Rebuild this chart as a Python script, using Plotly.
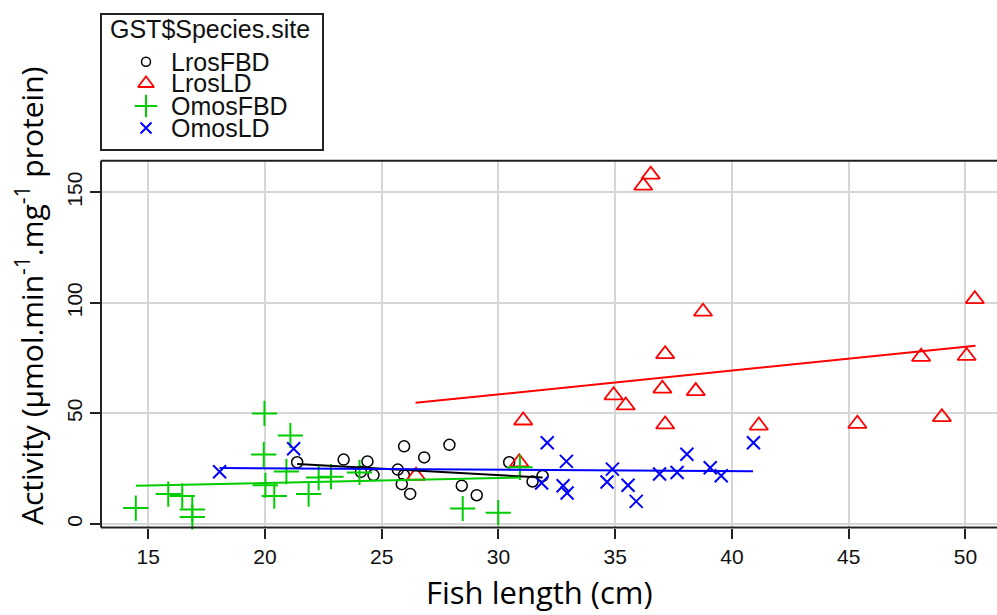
import plotly.graph_objects as go

# ---------------- data ----------------
lrosfbd_x = [21.38, 23.37, 24.39, 24.11, 24.65, 25.96, 25.69, 25.95, 25.86, 26.22,
             26.82, 27.90, 28.43, 29.07, 30.46, 31.46, 31.89]
lrosfbd_y = [27.9, 29.1, 28.3, 23.6, 22.1, 35.1, 24.6, 22.1, 18.0, 13.6,
             30.1, 35.8, 17.3, 13.0, 27.9, 19.2, 21.7]

lrosld_x = [36.52, 36.20, 38.76, 50.40, 37.14, 48.10, 50.05, 34.93, 35.45, 37.02,
            38.45, 31.06, 37.14, 41.15, 45.37, 48.99, 30.89, 26.47]
lrosld_y = [158.0, 153.0, 96.0, 101.7, 76.8, 75.6, 76.0, 58.2, 53.6, 61.2,
            60.1, 46.8, 45.0, 44.5, 45.3, 48.3, 27.9, 21.8]

omosfbd_x = [14.47, 15.86, 16.46, 16.89, 16.89, 19.98, 21.09, 19.95, 20.92, 20.02,
             20.40, 21.87, 22.30, 22.83, 24.05, 28.47, 29.99, 30.92]
omosfbd_y = [7.2, 13.5, 12.7, 6.5, 3.2, 50.0, 40.0, 31.4, 23.7, 17.5,
             12.6, 13.5, 21.0, 21.4, 23.3, 7.0, 5.1, 25.6]

omosld_x = [18.06, 21.23, 31.85, 32.09, 32.91, 32.77, 32.94, 34.88, 34.65, 35.55,
            35.90, 36.90, 37.65, 38.07, 39.07, 39.54, 40.92]
omosld_y = [23.6, 34.0, 18.5, 36.7, 28.3, 17.3, 14.0, 24.8, 19.0, 17.5,
            10.2, 22.6, 23.3, 31.5, 25.4, 21.8, 36.7]

# fitted lines (end points)
fit_lrosfbd_x = [21.38, 31.89]
fit_lrosfbd_y = [27.1, 21.0]
fit_lrosld_x = [26.45, 50.43]
fit_lrosld_y = [54.8, 80.6]
fit_omosfbd_x = [14.47, 30.92]
fit_omosfbd_y = [17.3, 21.0]
fit_omosld_x = [18.06, 40.90]
fit_omosld_y = [25.3, 23.8]

group_names = ["LrosFBD", "LrosLD", "OmosFBD", "OmosLD"]
x_ticks = [15, 20, 25, 30, 35, 40, 45, 50]
y_ticks = [0, 50, 100, 150]

# ---------------- styles ----------------
W, H = 997, 615
colors = ["#000000", "#FF0000", "#00CD00", "#0000FF"]
symbols = ["circle-open", "triangle-up-open", "cross-thin-open", "x-thin-open"]
sizes = [11, 16, 18, 13]
lw = [1.5, 1.8, 2, 2]

# plot area in pixels
PL, PR, PT, PB = 101, 997, 160.7, 527.5

fig = go.Figure()

series = [(lrosfbd_x, lrosfbd_y), (lrosld_x, lrosld_y),
          (omosfbd_x, omosfbd_y), (omosld_x, omosld_y)]
fits = [(fit_lrosfbd_x, fit_lrosfbd_y), (fit_lrosld_x, fit_lrosld_y),
        (fit_omosfbd_x, fit_omosfbd_y), (fit_omosld_x, fit_omosld_y)]

for i, (xs, ys) in enumerate(series):
    fig.add_trace(go.Scatter(
        x=xs, y=ys, mode="markers", name=group_names[i], showlegend=False,
        marker=dict(symbol=symbols[i], size=sizes[i], color=colors[i],
                    line=dict(color=colors[i], width=lw[i])),
        cliponaxis=False))
for i, (xs, ys) in enumerate(fits):
    fig.add_trace(go.Scatter(
        x=xs, y=ys, mode="lines", showlegend=False,
        line=dict(color=colors[i], width=2)))

# legend drawn manually on a full-figure pixel overlay
LEG_MARK_X = 146
LEG_TEXT_X = 169
LEG_ROWS = [61.7, 83.5, 106, 128]
for i in range(4):
    fig.add_trace(go.Scatter(
        x=[LEG_MARK_X], y=[LEG_ROWS[i]], mode="markers", showlegend=False,
        xaxis="x2", yaxis="y2",
        marker=dict(symbol=symbols[i], size=sizes[i] - 2, color=colors[i],
                    line=dict(color=colors[i], width=lw[i]))))

legfont = dict(family="Liberation Sans, Arial", size=25, color="#111")
annotations = []
annotations.append(dict(text="GST$Species.site", x=108 / W, y=1 - 29 / H,
                        xref="paper", yref="paper", xanchor="left", yanchor="middle",
                        showarrow=False, font=legfont))
for i in range(4):
    annotations.append(dict(text=group_names[i], x=LEG_TEXT_X / W, y=1 - LEG_ROWS[i] / H,
                            xref="paper", yref="paper", xanchor="left", yanchor="middle",
                            showarrow=False, font=legfont))
annotations.append(dict(text="Fish length (cm)", x=539 / W, y=0,
                        xref="paper", yref="paper", xanchor="center", yanchor="bottom",
                        showarrow=False,
                        font=dict(family="Open Sans", size=31, color="#000")))
annotations.append(dict(text="Activity (µmol.min<sup>-1</sup>.mg<sup>-1</sup> protein)",
                        x=30 / W, y=1 - 296 / H, textangle=-90,
                        xref="paper", yref="paper", xanchor="center", yanchor="middle",
                        showarrow=False,
                        font=dict(family="Open Sans", size=30, color="#000")))

shapes = [
    dict(type="rect", xref="paper", yref="paper", x0=101 / W, x1=323 / W,
         y0=1 - 150 / H, y1=1 - 14 / H, line=dict(color="#222", width=2)),
    dict(type="line", xref="paper", yref="paper", x0=PL / W, x1=PL / W,
         y0=1 - PB / H, y1=1 - PT / H, line=dict(color="#222", width=2)),
    dict(type="line", xref="paper", yref="paper", x0=PL / W, x1=1,
         y0=1 - PB / H, y1=1 - PB / H, line=dict(color="#222", width=2)),
    dict(type="line", xref="paper", yref="paper", x0=PL / W, x1=1,
         y0=1 - PT / H, y1=1 - PT / H, line=dict(color="#222", width=2)),
]

tickfont = dict(family="Liberation Sans, Arial", size=21, color="#111")
fig.update_layout(
    width=W, height=H, margin=dict(l=0, r=0, t=0, b=0, pad=0),
    paper_bgcolor="white", plot_bgcolor="rgba(0,0,0,0)",
    showlegend=False,
    xaxis=dict(domain=[PL / W, 1.0], range=[12.98, 51.35], tickvals=x_ticks,
               ticks="outside", ticklen=10, tickwidth=1.5, tickcolor="#222",
               showgrid=True, gridcolor="#D6D6D6", gridwidth=2, zeroline=False,
               showline=False, tickfont=tickfont, automargin=False),
    yaxis=dict(domain=[1 - PB / H, 1 - PT / H], range=[-1.6, 164.3], tickvals=y_ticks,
               ticks="outside", ticklen=10, tickwidth=1.5, tickcolor="#222",
               tickangle=-90,
               showgrid=True, gridcolor="#D6D6D6", gridwidth=2, zeroline=False,
               showline=False, tickfont=tickfont, automargin=False),
    xaxis2=dict(domain=[0, 1], range=[0, W], visible=False, anchor="y2", fixedrange=True),
    yaxis2=dict(domain=[0, 1], range=[H, 0], visible=False, anchor="x2", fixedrange=True),
    annotations=annotations, shapes=shapes,
)

fig.write_html("out.html")
